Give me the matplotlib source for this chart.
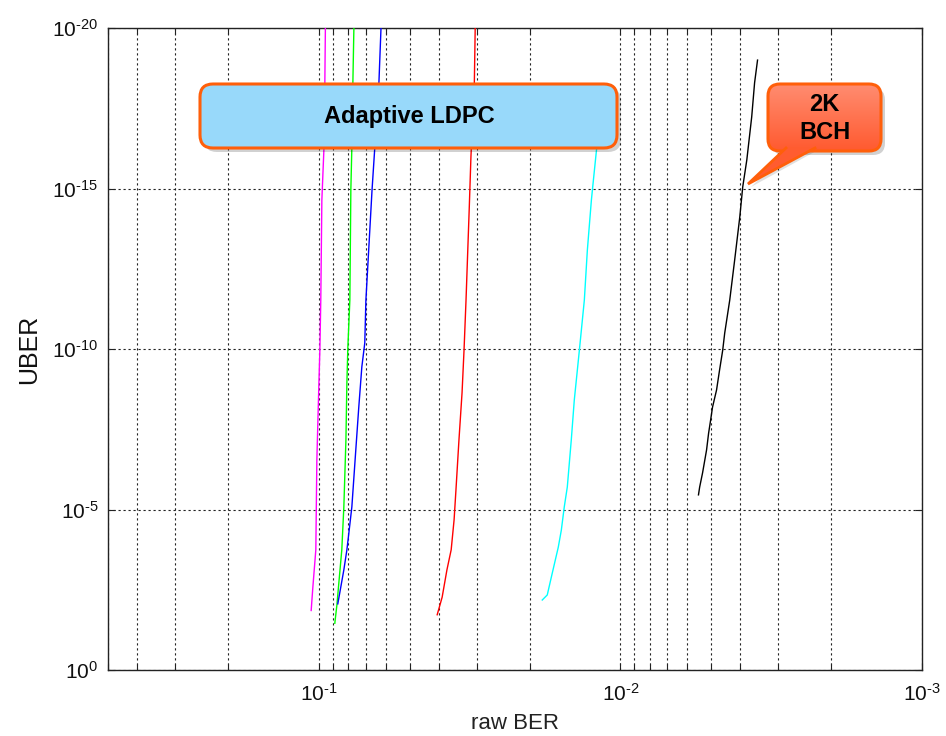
import numpy as np
import matplotlib
matplotlib.use('Agg')
import matplotlib.pyplot as plt
from matplotlib.patches import FancyBboxPatch, Polygon
from matplotlib.colors import LinearSegmentedColormap
from matplotlib.ticker import LogLocator, FixedLocator, NullLocator, NullFormatter, FixedFormatter

plt.rcParams['font.family'] = ['Liberation Sans', 'DejaVu Sans']
plt.rcParams['mathtext.fontset'] = 'custom'
plt.rcParams['mathtext.rm'] = 'Liberation Sans'
plt.rcParams['mathtext.it'] = 'Liberation Sans:italic'
plt.rcParams['mathtext.bf'] = 'Liberation Sans:bold'

# ---------------- data (raw BER vs UBER) ----------------
magenta_x = [0.106, 0.1047, 0.1023, 0.1015, 0.100, 0.0992, 0.0985, 0.0977, 0.0962, 0.0955, 0.0951]
magenta_y = [1.4e-2, 2.8e-3, 1.8e-4, 2.9e-7, 1.5e-9, 1.1e-10, 3e-12, 2.3e-15, 6.3e-17, 5.1e-19, 1e-20]

green_x = [0.0885, 0.0871, 0.0858, 0.0839, 0.0826, 0.0813, 0.0807, 0.0801, 0.0789, 0.0783, 0.0777, 0.0771, 0.0765]
green_y = [3.5e-2, 9.5e-3, 1.9e-3, 1.8e-4, 8.3e-6, 6.8e-8, 1.1e-9, 8.7e-11, 3e-12, 1.1e-15, 5.1e-17, 5.1e-19, 1e-20]

blue_x = [0.0865, 0.0826, 0.0807, 0.0795, 0.0777, 0.0754, 0.0737, 0.0720, 0.0704, 0.0698, 0.0666, 0.0652, 0.0632, 0.0622]
blue_y = [8.7e-3, 7.6e-4, 1.8e-4, 5.4e-5, 8.3e-6, 1.4e-7, 6.5e-9, 3.6e-10, 6.5e-11, 3e-12, 1.1e-15, 5.1e-17, 5.1e-19, 1e-20]

red_x = [0.0405, 0.0390, 0.0376, 0.0364, 0.0356, 0.0351, 0.0343, 0.0335, 0.0330, 0.0325, 0.0317, 0.0313, 0.0305, 0.0303]
red_y = [1.9e-2, 5.4e-3, 7.6e-4, 1.8e-4, 2.1e-5, 2.5e-6, 6.8e-8, 2.3e-9, 1.1e-10, 3e-12, 3.8e-15, 1e-16, 5.1e-19, 1e-20]

cyan_x = [0.01816, 0.01748, 0.01682, 0.01607, 0.01570, 0.01535, 0.01500, 0.01455, 0.01422, 0.01368,
          0.01317, 0.01287, 0.01248, 0.01229, 0.01202, 0.01175]
cyan_y = [6.6e-3, 4.6e-3, 9.5e-4, 1.5e-4, 4.4e-5, 8.3e-6, 2e-6, 6.8e-8, 3.9e-9, 1.1e-10,
          3e-12, 8.3e-14, 2.3e-15, 5.5e-16, 7.2e-17, 7.4e-18]

black_x = [0.00551, 0.00546, 0.00534, 0.00518, 0.00510, 0.00502, 0.00495, 0.00480, 0.00469, 0.00458,
           0.00451, 0.00434, 0.00418, 0.00402, 0.00393, 0.00381, 0.00367, 0.00359, 0.00351]
black_y = [3.5e-6, 2e-6, 7.2e-7, 1.4e-7, 4.2e-8, 1.6e-8, 6.5e-9, 1.9e-9, 4.5e-10, 1.1e-10,
           3.2e-11, 3e-12, 1.7e-13, 7.8e-15, 8.9e-16, 1.3e-16, 5.9e-18, 5.1e-19, 1e-19]

series = [
    (magenta_x, magenta_y, '#FF00FF'),
    (green_x, green_y, '#00FF00'),
    (blue_x, blue_y, '#0000FF'),
    (red_x, red_y, '#FF0000'),
    (cyan_x, cyan_y, '#00FFFF'),
    (black_x, black_y, '#000000'),
]

x_major = [1e-1, 1e-2, 1e-3]
x_major_labels = [r'$10^{\text{-1}}$', r'$10^{\text{-2}}$', r'$10^{\text{-3}}$']
y_major = [1e0, 1e-5, 1e-10, 1e-15, 1e-20]
y_major_labels = [r'$10^{\text{0}}$', r'$10^{\text{-5}}$', r'$10^{\text{-10}}$',
                  r'$10^{\text{-15}}$', r'$10^{\text{-20}}$']

box_text = 'Adaptive LDPC'
callout_text = '2K\nBCH'

# ---------------- figure ----------------
W, H = 946, 736
fig = plt.figure(figsize=(W / 100, H / 100), dpi=100)
ax = fig.add_axes([108 / W, 1 - 670 / H, 814 / W, 642 / H])

for xs, ys, c in series:
    ax.plot(xs, ys, color=c, lw=1.0, zorder=3)

ax.set_xscale('log')
ax.set_yscale('log')
ax.set_xlim(0.5, 1e-3)
ax.set_ylim(1e0, 1e-20)

ax.xaxis.set_major_locator(FixedLocator(x_major))
ax.xaxis.set_major_formatter(FixedFormatter(x_major_labels))
ax.xaxis.set_minor_locator(LogLocator(base=10, subs=np.arange(2, 10), numticks=20))
ax.xaxis.set_minor_formatter(NullFormatter())
ax.yaxis.set_major_locator(FixedLocator(y_major))
ax.yaxis.set_major_formatter(FixedFormatter(y_major_labels))
ax.yaxis.set_minor_locator(NullLocator())

ax.tick_params(which='both', direction='in', top=True, right=True, colors='#222222',
               labelcolor='#111111', labelsize=15, width=0.8)
ax.tick_params(which='major', length=5)
ax.tick_params(which='minor', length=4)
ax.tick_params(axis='x', pad=9)
ax.tick_params(axis='y', pad=7)

grid_kw = dict(color='#222222', linestyle=(0, (2, 2.5)), linewidth=0.8)
ax.grid(True, axis='x', which='both', **grid_kw)
ax.grid(True, axis='y', which='major', **grid_kw)

for s in ax.spines.values():
    s.set_color('#222222')
    s.set_linewidth(1.0)

ax.set_xlabel('raw BER', fontsize=16, color='#222222', labelpad=6)
ax.set_ylabel('UBER', fontsize=18, color='#111111', labelpad=8)

# ---------------- annotation overlay (pixel coordinates) ----------------
ov = fig.add_axes([0, 0, 1, 1], zorder=10)
ov.set_xlim(0, W)
ov.set_ylim(H, 0)
ov.axis('off')
ov.patch.set_alpha(0)

edge_orange = '#FF5F0A'

# blue box with shadow
bx0, by0, bx1, by1 = 200, 84, 617, 148
shadow = FancyBboxPatch((bx0 + 4, by0 + 4), bx1 - bx0, by1 - by0,
                        boxstyle='round,pad=0,rounding_size=13',
                        fc='#000000', ec='none', alpha=0.18, zorder=1)
ov.add_patch(shadow)
bbox = FancyBboxPatch((bx0, by0), bx1 - bx0, by1 - by0,
                      boxstyle='round,pad=0,rounding_size=13',
                      fc='#98D9FA', ec=edge_orange, lw=2.2, zorder=2)
ov.add_patch(bbox)
ov.text((bx0 + bx1) / 2 + 1, (by0 + by1) / 2 + 1, box_text, ha='center', va='center',
        fontsize=17, fontweight='bold', color='#000000', zorder=3)

# red callout
rx0, ry0, rx1, ry1 = 768, 84, 881, 151
tail = [(786, ry1 - 4), (815, ry1 - 4), (748, 184)]
shadow2 = FancyBboxPatch((rx0 + 4, ry0 + 4), rx1 - rx0, ry1 - ry0,
                         boxstyle='round,pad=0,rounding_size=12',
                         fc='#000000', ec='none', alpha=0.18, zorder=1)
ov.add_patch(shadow2)
ov.add_patch(Polygon([(p[0] + 3, p[1] + 3) for p in tail], closed=True,
                     fc='#000000', ec='none', alpha=0.12, zorder=1))
rbox = FancyBboxPatch((rx0, ry0), rx1 - rx0, ry1 - ry0,
                      boxstyle='round,pad=0,rounding_size=12',
                      fc='none', ec=edge_orange, lw=2.2, zorder=4)
ov.add_patch(rbox)
cmap = LinearSegmentedColormap.from_list('rg', ['#FF8C70', '#FF5A30'])
grad = np.linspace(0, 1, 100).reshape(-1, 1)
im = ov.imshow(grad, extent=(rx0, rx1, ry1, ry0), origin='upper', aspect='auto',
               cmap=cmap, zorder=3)
clip = FancyBboxPatch((rx0, ry0), rx1 - rx0, ry1 - ry0,
                      boxstyle='round,pad=0,rounding_size=12', transform=ov.transData)
im.set_clip_path(clip)
ov.add_patch(Polygon(tail, closed=True, fc='#FF5C30', ec='none', zorder=5))
ov.plot([tail[0][0], tail[2][0], tail[1][0]], [tail[0][1] + 1, tail[2][1], tail[1][1] + 1],
        color=edge_orange, lw=2.0, solid_joinstyle='miter', zorder=5)
ov.text((rx0 + rx1) / 2, (ry0 + ry1) / 2 + 1, callout_text, ha='center', va='center',
        fontsize=17, fontweight='bold', color='#000000', linespacing=1.3, zorder=6)
ov.set_xlim(0, W)
ov.set_ylim(H, 0)

fig.savefig('out.png', dpi=100)
